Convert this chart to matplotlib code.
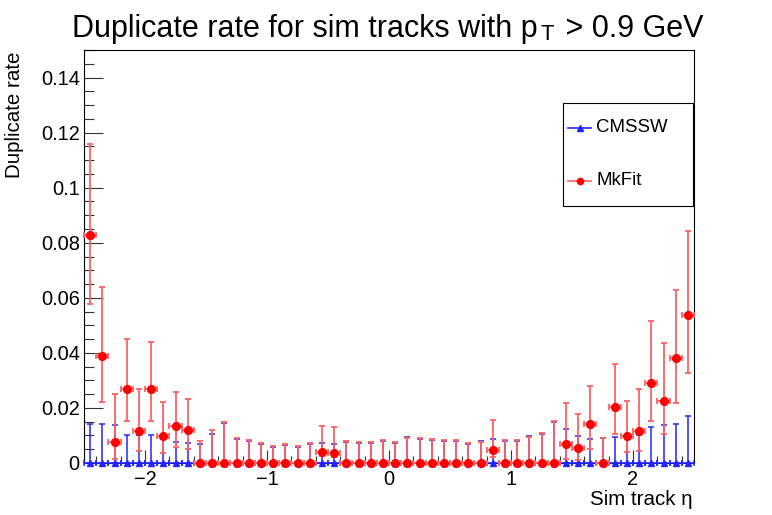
import numpy as np
import matplotlib
matplotlib.use("Agg")
import matplotlib.pyplot as plt
from matplotlib.lines import Line2D
from matplotlib.patches import Rectangle
from matplotlib.ticker import MultipleLocator, FuncFormatter

plt.rcParams['font.family'] = ['Liberation Sans', 'DejaVu Sans']

# 50 eta bins of width 0.1 between -2.5 and 2.5
eta_centers = np.round(np.arange(-2.45, 2.5, 0.1), 2)
bin_half_width = 0.05

# MkFit duplicate rate with lower / upper bounds of the error bar
mkfit_rate = [0.0827, 0.0387, 0.0076, 0.0270, 0.0116, 0.0267, 0.0098, 0.0134, 0.0120, 0.0,
              0.0, 0.0, 0.0, 0.0, 0.0, 0.0, 0.0, 0.0, 0.0, 0.0041,
              0.0038, 0.0, 0.0, 0.0, 0.0, 0.0, 0.0, 0.0, 0.0, 0.0,
              0.0, 0.0, 0.0, 0.0046, 0.0, 0.0, 0.0, 0.0, 0.0, 0.0070,
              0.0055, 0.0143, 0.0, 0.0204, 0.0098, 0.0116, 0.0291, 0.0225, 0.0382, 0.0538]
mkfit_low = [0.0577, 0.0223, 0.0016, 0.0154, 0.0042, 0.0154, 0.0036, 0.0057, 0.0050, 0.0,
             0.0, 0.0, 0.0, 0.0, 0.0, 0.0, 0.0, 0.0, 0.0, 0.0024,
             0.0023, 0.0, 0.0, 0.0, 0.0, 0.0, 0.0, 0.0, 0.0, 0.0,
             0.0, 0.0, 0.0, 0.0023, 0.0, 0.0, 0.0, 0.0, 0.0, 0.0015,
             0.0012, 0.0051, 0.0, 0.0107, 0.0039, 0.0045, 0.0153, 0.0107, 0.0218, 0.0327]
mkfit_high = [0.1160, 0.0638, 0.0250, 0.0450, 0.0269, 0.0441, 0.0223, 0.0259, 0.0234, 0.0080,
              0.0119, 0.0150, 0.0090, 0.0084, 0.0073, 0.0062, 0.0069, 0.0062, 0.0072, 0.0134,
              0.0130, 0.0080, 0.0076, 0.0075, 0.0083, 0.0076, 0.0091, 0.0091, 0.0087, 0.0084,
              0.0084, 0.0072, 0.0076, 0.0156, 0.0084, 0.0084, 0.0096, 0.0110, 0.0154, 0.0218,
              0.0179, 0.0278, 0.0090, 0.0360, 0.0225, 0.0267, 0.0514, 0.0436, 0.0629, 0.0844]

# CMSSW duplicate rate (all zero) with the upper bound of the error bar
cmssw_rate = [0.0] * 50
cmssw_high = [0.0142, 0.0142, 0.0138, 0.0102, 0.0101, 0.0101, 0.0086, 0.0078, 0.0074, 0.0070,
              0.0105, 0.0146, 0.0087, 0.0080, 0.0068, 0.0058, 0.0064, 0.0058, 0.0068, 0.0074,
              0.0070, 0.0076, 0.0072, 0.0073, 0.0079, 0.0072, 0.0094, 0.0087, 0.0083, 0.0080,
              0.0080, 0.0068, 0.0080, 0.0086, 0.0080, 0.0080, 0.0098, 0.0106, 0.0150, 0.0125,
              0.0098, 0.0088, 0.0091, 0.0096, 0.0096, 0.0100, 0.0131, 0.0139, 0.0143, 0.0171]

W, H = 772, 515
fig = plt.figure(figsize=(W / 100, H / 100), dpi=100)
ax = fig.add_axes([84 / W, 1 - 463 / H, (694 - 84) / W, (463 - 50) / H])

blue = '#2424ff'
red = '#ff0000'
light_red = '#ff6262'

cm = np.array(cmssw_rate)
ax.errorbar(eta_centers, cm, xerr=bin_half_width,
            yerr=[np.zeros(50), np.array(cmssw_high) - cm],
            fmt='^', color=blue, ms=5, ecolor=blue, elinewidth=1.1,
            capsize=2.2, capthick=1.1, clip_on=False, zorder=3)

mk = np.array(mkfit_rate)
ax.errorbar(eta_centers, mk, xerr=bin_half_width,
            yerr=[mk - np.array(mkfit_low), np.array(mkfit_high) - mk],
            fmt='o', color=red, ms=5.6, ecolor=light_red, elinewidth=1.3,
            capsize=2.2, capthick=1.3, clip_on=False, zorder=4)

ax.set_xlim(-2.5, 2.5)
ax.set_ylim(0, 0.15)
ax.xaxis.set_major_locator(MultipleLocator(1))
ax.xaxis.set_minor_locator(MultipleLocator(0.2))
ax.yaxis.set_major_locator(MultipleLocator(0.02))
ax.yaxis.set_minor_locator(MultipleLocator(0.005))
ax.yaxis.set_major_formatter(FuncFormatter(lambda v, p: f"{v:g}"))
ax.tick_params(axis='x', which='major', direction='in', length=9.4, width=0.8,
               color='#333333', labelsize=14.4, pad=5)
ax.tick_params(axis='x', which='minor', direction='in', length=5, width=0.8, color='#333333')
ax.tick_params(axis='y', which='major', direction='in', length=13.7, width=0.8,
               color='#333333', labelsize=14.4, pad=3)
ax.tick_params(axis='y', which='minor', direction='in', length=7.2, width=0.8, color='#333333')
for s in ax.spines.values():
    s.set_linewidth(0.8)

# title in pieces so the subscript T sits low like ROOT draws it
renderer = fig.canvas.get_renderer()
title_size = 22
base_y = 1 - 37 / H
x_px = 72
t1 = fig.text(x_px / W, base_y, "Duplicate rate for sim tracks with p", ha='left', va='baseline',
              fontsize=title_size)
x_px = t1.get_window_extent(renderer).x1 + 3
t2 = fig.text(x_px / W, 1 - 40 / H, "T", ha='left', va='baseline', fontsize=title_size * 0.72)
x_px = t2.get_window_extent(renderer).x1 + 3
t3 = fig.text(x_px / W, base_y, " > 0.9 GeV", ha='left', va='baseline', fontsize=title_size)

fig.text(15 / W, 1 - 52 / H, "Duplicate rate", rotation=90, ha='center', va='top', fontsize=14.8)
fig.text(693 / W, 1 - 505 / H, "Sim track η", ha='right', va='baseline', fontsize=14.8)

# legend box
fig.add_artist(Rectangle((563 / W, 1 - 206 / H), 130 / W, 103 / H, transform=fig.transFigure,
                         fill=False, edgecolor='black', lw=0.8))
for yy, col, mkr, lab, lc in [(128, blue, '^', 'CMSSW', blue), (181, red, 'o', 'MkFit', light_red)]:
    fig.add_artist(Line2D([568 / W, 591 / W], [1 - yy / H] * 2, transform=fig.transFigure,
                          color=lc, lw=1.2))
    fig.add_artist(Line2D([579.5 / W], [1 - yy / H], transform=fig.transFigure,
                          marker=mkr, color=col, ms=4.5, lw=0))
    fig.text(596 / W, 1 - yy / H, lab, ha='left', va='center', fontsize=13.4)

fig.savefig("out.png", dpi=100)
